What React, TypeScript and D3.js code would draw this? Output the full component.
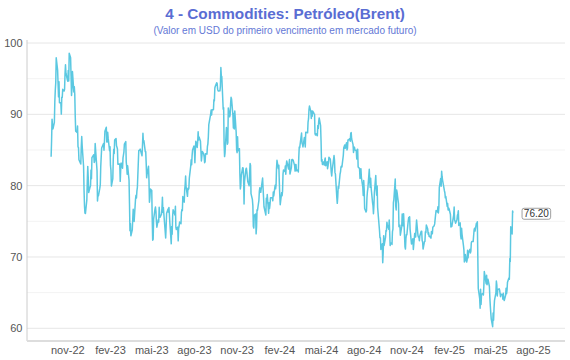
import React from "react";
import * as d3 from "d3";

// Brent front-month closes, [MMDD, value]
const brent2022: [number, number][] = [
  [926, 84.06], [927, 86.27], [928, 89.32], [929, 88.49], [930, 87.96],
  [1003, 88.86], [1004, 91.8], [1005, 93.37], [1006, 94.42], [1007, 97.92], [1010, 96.19], [1011, 94.29], [1012, 92.45], [1013, 94.57], [1014, 91.63],
  [1017, 91.62], [1018, 90.03], [1019, 92.41], [1020, 92.38], [1021, 93.5], [1024, 93.26], [1025, 93.52], [1026, 95.69], [1027, 96.96], [1028, 95.77], [1031, 94.83],
  [1101, 94.65], [1102, 96.16], [1103, 94.67], [1104, 98.57], [1107, 97.92], [1108, 95.36], [1109, 92.65], [1110, 93.67], [1111, 95.99], [1114, 93.14],
  [1115, 93.86], [1116, 92.86], [1117, 89.78], [1118, 87.62], [1121, 87.45], [1122, 88.36], [1123, 85.41], [1124, 85.34], [1125, 83.63], [1128, 83.19], [1129, 83.03], [1130, 85.43],
  [1201, 86.88], [1202, 85.57], [1205, 82.68], [1206, 79.35], [1207, 77.17], [1208, 76.15], [1209, 76.1], [1212, 77.99], [1213, 80.68], [1214, 82.7],
  [1215, 81.21], [1216, 79.04], [1219, 79.8], [1220, 79.99], [1221, 82.2], [1222, 80.98], [1223, 83.92], [1227, 84.33], [1228, 83.26], [1229, 83.46], [1230, 85.91],
];

const brent2023: [number, number][] = [
  [103, 82.1], [104, 77.84], [105, 78.69], [106, 78.57], [109, 79.65], [110, 80.1], [111, 82.67], [112, 84.03], [113, 85.28], [117, 85.92], [118, 84.98],
  [119, 86.16], [120, 87.63], [123, 88.19], [124, 86.13], [125, 86.12], [126, 87.47], [127, 86.66], [130, 84.9], [131, 85.46],
  [201, 82.84], [202, 82.17], [203, 79.94], [206, 80.99], [207, 83.69], [208, 85.09], [209, 84.5], [210, 86.39], [213, 86.61], [214, 85.58], [215, 85.38],
  [216, 85.14], [217, 83.0], [221, 83.05], [222, 80.6], [223, 82.21], [224, 83.16], [227, 82.45], [228, 83.89],
  [301, 84.31], [302, 84.75], [303, 85.83], [306, 86.18], [307, 83.29], [308, 82.66], [309, 81.59], [310, 82.78], [313, 80.77], [314, 77.45], [315, 73.69],
  [316, 74.7], [317, 72.97], [320, 73.79], [321, 75.32], [322, 76.69], [323, 75.91], [324, 74.99], [327, 78.12], [328, 78.65], [329, 78.28], [330, 79.27], [331, 79.77],
  [403, 84.93], [404, 84.94], [405, 85.0], [406, 85.12], [410, 84.18], [411, 85.61], [412, 87.33], [413, 86.09], [414, 86.31], [417, 84.76], [418, 84.77],
  [419, 83.12], [420, 81.1], [421, 81.66], [424, 82.73], [425, 80.77], [426, 77.69], [427, 78.37], [428, 79.54],
  [501, 79.31], [502, 75.32], [503, 72.33], [504, 72.5], [505, 75.3], [508, 76.71], [509, 77.01], [510, 76.41], [511, 74.98], [512, 74.17], [515, 75.23],
  [516, 74.91], [517, 76.96], [518, 75.86], [519, 75.58], [522, 75.99], [523, 76.84], [524, 78.36], [525, 76.26], [526, 76.95], [530, 73.54], [531, 72.66],
  [601, 74.28], [602, 76.13], [605, 76.71], [606, 76.29], [607, 76.95], [608, 75.96], [609, 74.79], [612, 71.84], [613, 74.29], [614, 73.2], [615, 75.67],
  [616, 76.61], [619, 76.09], [620, 75.9], [621, 77.12], [622, 74.14], [623, 73.85], [626, 74.18], [627, 72.26], [628, 74.03], [629, 74.34], [630, 74.9],
  [703, 74.65], [704, 76.25], [705, 76.65], [706, 76.52], [707, 78.47], [710, 77.69], [711, 79.4], [712, 80.11], [713, 81.36], [714, 79.87], [717, 78.5],
  [718, 79.63], [719, 79.46], [720, 79.64], [721, 81.07], [724, 82.74], [725, 83.64], [726, 82.92], [727, 84.24], [728, 84.99], [731, 85.56],
  [801, 84.91], [802, 83.2], [803, 85.14], [804, 86.24], [807, 85.34], [808, 86.17], [809, 87.55], [810, 86.4], [811, 86.81], [814, 86.21], [815, 84.89],
  [816, 83.45], [817, 84.12], [818, 84.8], [821, 84.46], [822, 84.03], [823, 83.21], [824, 83.36], [825, 84.48], [828, 84.42], [829, 85.49], [830, 85.86], [831, 86.86],
  [901, 88.55], [905, 90.04], [906, 90.6], [907, 89.92], [908, 90.65], [911, 90.64], [912, 92.06], [913, 91.88], [914, 93.7], [915, 93.93], [918, 94.43],
  [919, 94.34], [920, 93.53], [921, 93.3], [922, 93.27], [925, 93.29], [926, 93.96], [927, 96.55], [928, 95.38], [929, 95.31],
  [1002, 90.71], [1003, 90.92], [1004, 85.81], [1005, 84.07], [1006, 84.58], [1009, 88.15], [1010, 87.65], [1011, 85.82], [1012, 86.0], [1013, 90.89],
  [1016, 89.65], [1017, 89.9], [1018, 91.5], [1019, 92.38], [1020, 92.16], [1023, 89.83], [1024, 88.07], [1025, 90.13], [1026, 87.93], [1027, 90.48], [1030, 87.45], [1031, 85.02],
  [1101, 84.63], [1102, 86.85], [1103, 84.89], [1106, 85.18], [1107, 81.61], [1108, 79.54], [1109, 80.01], [1110, 81.43], [1113, 82.52], [1114, 82.47],
  [1115, 81.18], [1116, 77.42], [1117, 80.61], [1120, 82.32], [1121, 82.45], [1122, 81.96], [1124, 80.58], [1127, 79.98], [1128, 81.68], [1129, 83.1], [1130, 82.83],
  [1201, 78.88], [1204, 78.03], [1205, 77.2], [1206, 74.3], [1207, 74.05], [1208, 75.84], [1211, 76.03], [1212, 73.24], [1213, 74.26], [1214, 76.61],
  [1215, 76.55], [1218, 77.95], [1219, 79.23], [1220, 79.7], [1221, 79.39], [1222, 79.07], [1226, 81.07], [1227, 79.65], [1228, 78.39], [1229, 77.04],
];

const brent2024: [number, number][] = [
  [102, 75.89], [103, 78.25], [104, 77.59], [105, 78.76], [108, 76.12], [109, 77.59], [110, 76.8], [111, 77.41], [112, 78.29], [116, 78.29], [117, 77.88],
  [118, 79.1], [119, 78.56], [122, 80.06], [123, 79.55], [124, 80.04], [125, 82.43], [126, 83.55], [129, 82.4], [130, 82.87], [131, 80.55],
  [201, 78.7], [202, 77.33], [205, 78.99], [206, 78.59], [207, 79.21], [208, 81.63], [209, 82.19], [212, 82.0], [213, 82.77], [214, 81.6], [215, 82.86],
  [216, 83.47], [220, 82.34], [221, 83.03], [222, 83.67], [223, 81.62], [226, 82.53], [227, 83.65], [228, 83.68], [229, 83.62],
  [301, 83.55], [304, 82.8], [305, 82.04], [306, 82.96], [307, 82.96], [308, 82.08], [311, 82.21], [312, 81.92], [313, 84.03], [314, 85.42], [315, 85.34],
  [318, 86.89], [319, 87.38], [320, 85.95], [321, 85.78], [322, 85.43], [325, 86.75], [326, 86.25], [327, 85.41], [328, 87.48],
  [401, 87.42], [402, 88.92], [403, 89.35], [404, 90.65], [405, 91.17], [408, 90.38], [409, 89.42], [410, 90.48], [411, 89.74], [412, 90.45], [415, 90.1],
  [416, 90.02], [417, 87.29], [418, 87.11], [419, 87.29], [422, 87.0], [423, 88.42], [424, 88.02], [425, 89.01], [426, 89.5], [429, 88.4], [430, 86.33],
  [501, 83.44], [502, 83.67], [503, 82.96], [506, 83.33], [507, 82.88], [508, 83.58], [509, 83.88], [510, 82.79], [513, 83.36], [514, 82.38], [515, 82.75],
  [516, 83.27], [517, 83.98], [520, 83.71], [521, 82.88], [522, 81.9], [523, 81.36], [524, 82.12], [528, 84.22], [529, 83.6], [530, 81.86], [531, 81.62],
  [603, 78.36], [604, 77.52], [605, 78.41], [606, 79.87], [607, 79.62], [610, 81.63], [611, 81.92], [612, 82.6], [613, 82.75], [614, 82.62], [617, 84.25],
  [618, 85.33], [620, 85.71], [621, 85.24], [624, 86.01], [625, 85.01], [626, 85.25], [627, 86.39], [628, 86.41],
  [701, 86.6], [702, 86.24], [703, 87.34], [704, 87.43], [705, 86.54], [708, 85.75], [709, 84.66], [710, 85.08], [711, 85.4], [712, 85.03], [715, 84.85],
  [716, 83.73], [717, 85.08], [718, 85.11], [719, 82.63], [722, 82.4], [723, 81.01], [724, 81.71], [725, 82.37], [726, 81.13], [729, 79.78], [730, 78.63], [731, 80.72],
  [801, 79.52], [802, 76.81], [805, 76.3], [806, 76.48], [807, 78.33], [808, 79.16], [809, 79.66], [812, 82.3], [813, 80.69], [814, 79.76], [815, 81.04],
  [816, 79.68], [819, 77.66], [820, 77.2], [821, 76.05], [822, 77.22], [823, 79.02], [826, 81.43], [827, 79.55], [828, 78.65], [829, 79.94], [830, 76.93],
  [903, 73.75], [904, 72.7], [905, 72.69], [906, 71.06], [909, 71.84], [910, 69.19], [911, 70.61], [912, 72.97], [913, 71.61], [916, 72.75], [917, 73.7],
  [918, 73.65], [919, 74.88], [920, 74.49], [923, 73.9], [924, 75.17], [925, 73.46], [926, 71.6], [927, 71.98], [930, 71.77],
  [1001, 73.56], [1002, 73.9], [1003, 77.62], [1004, 78.05], [1007, 80.93], [1008, 77.18], [1009, 76.58], [1010, 79.4], [1011, 79.04], [1014, 77.46],
  [1015, 74.25], [1016, 74.22], [1017, 74.45], [1018, 73.06], [1021, 74.29], [1022, 76.04], [1023, 74.96], [1024, 74.38], [1025, 76.05], [1028, 71.42],
  [1029, 71.12], [1030, 72.55], [1031, 73.16],
  [1101, 73.1], [1104, 75.08], [1105, 75.53], [1106, 75.02], [1107, 75.63], [1108, 73.87], [1111, 71.83], [1112, 71.89], [1113, 72.28], [1114, 72.56],
  [1115, 71.04], [1118, 73.3], [1119, 73.31], [1120, 72.81], [1121, 74.23], [1122, 75.17], [1125, 73.01], [1126, 72.81], [1127, 72.83], [1128, 72.28], [1129, 72.94],
  [1202, 73.62], [1203, 73.62], [1204, 72.31], [1205, 72.09], [1206, 71.12], [1209, 72.14], [1210, 72.19], [1211, 73.52], [1212, 73.41], [1213, 74.49],
  [1216, 73.91], [1217, 73.19], [1218, 73.39], [1219, 72.88], [1220, 72.94], [1223, 72.63], [1224, 73.58], [1226, 73.26], [1227, 74.17], [1230, 74.39], [1231, 74.64],
];

const brent2025: [number, number][] = [
  [102, 75.93], [103, 76.51], [106, 76.3], [107, 77.05], [108, 76.16], [109, 76.92], [110, 79.76], [113, 81.01], [114, 79.92], [115, 82.03], [116, 81.29],
  [117, 80.79], [121, 79.29], [122, 79.0], [123, 78.29], [124, 78.5], [127, 77.08], [128, 77.49], [129, 76.58], [130, 76.87], [131, 76.76],
  [203, 75.96], [204, 74.2], [205, 74.61], [206, 74.29], [207, 74.66], [210, 75.87], [211, 77.0], [212, 75.18], [213, 75.02], [214, 74.74], [217, 75.22],
  [218, 75.84], [219, 76.04], [220, 76.48], [221, 74.43], [224, 74.78], [225, 73.02], [226, 72.53], [227, 74.04], [228, 73.18],
  [303, 71.62], [304, 71.04], [305, 69.3], [306, 69.46], [307, 70.36], [310, 69.28], [311, 69.56], [312, 70.95], [313, 69.88], [314, 70.58], [317, 71.07],
  [318, 70.56], [319, 70.78], [320, 72.0], [321, 72.16], [324, 72.16], [325, 73.02], [326, 73.79], [327, 74.03], [328, 73.63], [331, 74.74],
  [401, 74.49], [402, 74.95], [403, 70.14], [404, 65.58], [407, 64.21], [408, 62.82], [409, 65.48], [410, 63.33], [411, 64.76], [414, 64.88], [415, 64.67],
  [416, 65.85], [417, 67.96], [421, 66.26], [422, 67.44], [423, 66.12], [424, 66.55], [425, 66.87], [428, 65.86], [429, 64.25], [430, 63.12],
  [501, 62.13], [502, 61.29], [505, 60.23], [506, 62.15], [507, 61.12], [508, 62.84], [509, 63.91], [512, 64.96], [513, 66.63], [514, 66.09], [515, 64.53],
  [516, 65.41], [519, 65.54], [520, 65.38], [521, 64.91], [522, 64.44], [523, 64.78], [526, 64.74], [527, 64.09], [528, 64.9], [529, 64.15], [530, 63.9],
  [602, 64.63], [603, 65.63], [604, 64.86], [605, 65.34], [606, 66.47], [609, 67.04], [610, 66.87], [611, 69.77], [612, 69.36], [613, 74.23], [616, 73.23],
  [617, 76.45], [618, 76.2],
];

const yMajorTicks = [60, 70, 80, 90, 100];
const yMinorTicks = [65, 75, 85, 95];
const monthNames = ["jan", "fev", "mar", "abr", "mai", "jun", "jul", "ago", "set", "out", "nov", "dez"];

type Point = { date: Date; value: number };

const toPoints = (year: number, rows: [number, number][]): Point[] =>
  rows.map(([md, v]) => ({ date: new Date(year, Math.floor(md / 100) - 1, md % 100), value: v }));

const series: Point[] = [
  ...toPoints(2022, brent2022),
  ...toPoints(2023, brent2023),
  ...toPoints(2024, brent2024),
  ...toPoints(2025, brent2025),
];

const W = 570;
const H = 360;
const left = 27;
const right = 565;
const font = "'Liberation Sans', Arial, Helvetica, sans-serif";

export default function App() {
  const x = d3.scaleTime().domain([new Date(2022, 7, 5), new Date(2025, 9, 8)]).range([left, right]);
  const y = d3.scaleLinear().domain([60, 100]).range([328.3, 43]);

  const line = d3.line<Point>().x(d => x(d.date)).y(d => y(d.value));

  const xTicks = d3.timeMonth.range(new Date(2022, 10, 1), new Date(2025, 8, 1), 3);
  const fmt = (d: Date) => `${monthNames[d.getMonth()]}-${String(d.getFullYear()).slice(2)}`;

  const last = series[series.length - 1];
  const lx = x(last.date);
  const ly = y(last.value);

  return (
    <svg width={W} height={H} style={{ position: "absolute", left: 0, top: 0 }} fontFamily={font}>
      <rect width={W} height={H} fill="#fff" />
      <text x={W / 2} y={18.5} textAnchor="middle" fontSize={15.3} fontWeight="bold" fill="#5a6dd3">
        4 - Commodities: Petróleo(Brent)
      </text>
      <text x={W / 2} y={34} textAnchor="middle" fontSize={10} fill="#6478d6">
        (Valor em USD do primeiro vencimento em mercado futuro)
      </text>

      {yMinorTicks.map(t => (
        <line key={"m" + t} x1={left} x2={right} y1={y(t)} y2={y(t)} stroke="#f3f3f3" />
      ))}
      {yMajorTicks.map(t => (
        <line key={"g" + t} x1={left} x2={right} y1={y(t)} y2={y(t)} stroke="#e6e6e6" />
      ))}

      <line x1={left} x2={left} y1={40} y2={341} stroke="#ccc" />
      <line x1={left} x2={right} y1={341} y2={341} stroke="#ddd" strokeWidth={2} />

      {yMajorTicks.map(t => (
        <text key={"y" + t} x={22.5} y={y(t)} dy="0.35em" textAnchor="end" fontSize={11} fill="#555">
          {t}
        </text>
      ))}
      {xTicks.map(d => (
        <text key={+d} x={x(d)} y={353.5} textAnchor="middle" fontSize={11} fill="#555">
          {fmt(d)}
        </text>
      ))}

      <path d={line(series) || ""} fill="none" stroke="#5bc8e1" strokeWidth={1.5} strokeLinejoin="round" />

      <rect x={lx + 9} y={ly - 4.5} width={28.6} height={11} rx={2} fill="#fff" stroke="#888" strokeWidth={0.8} />
      <text x={lx + 9 + 14.3} y={ly + 4.3} textAnchor="middle" fontSize={10} fill="#333">
        {last.value.toFixed(2)}
      </text>
    </svg>
  );
}
